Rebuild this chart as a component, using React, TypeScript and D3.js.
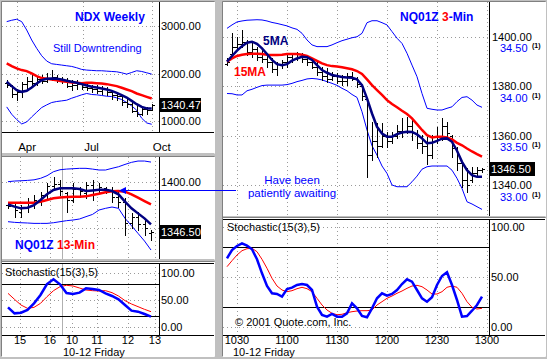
import React from "react";
import * as d3 from "d3";

// ================= NDX Weekly (top-left) =================
const weeklyHigh = [1860,1755,1684,1825,1931,1966,1931,1966,2001,2072,1966,1931,1896,1860,1860,1825,1790,1755,1755,1734,1706,1649,1614,1544,1508,1438,1368,1311,1297,1368];
const weeklyLow = [1720,1508,1438,1508,1649,1720,1755,1790,1825,1860,1825,1790,1720,1649,1684,1684,1649,1614,1579,1565,1544,1473,1438,1332,1297,1192,1100,1121,1156,1227];
const weeklyOpen = [1800,1740,1560,1600,1780,1850,1800,1880,1850,1900,1920,1880,1860,1740,1760,1780,1720,1700,1680,1640,1680,1600,1540,1520,1400,1360,1220,1150,1250,1230];
const weeklyClose = [1760,1560,1600,1780,1850,1800,1880,1850,1900,1920,1880,1860,1740,1760,1780,1720,1700,1680,1640,1680,1600,1540,1520,1400,1360,1220,1150,1250,1230,1340];
const weeklyMaFast = [1825,1734,1649,1614,1635,1706,1790,1860,1889,1896,1889,1875,1846,1825,1804,1776,1748,1720,1706,1684,1663,1635,1593,1544,1494,1424,1354,1297,1262,1262];
const weeklyMaSlow = [2212,2156,2107,2072,2050,2001,1945,1903,1889,1875,1860,1839,1825,1811,1804,1797,1804,1804,1797,1790,1776,1755,1734,1699,1663,1628,1579,1544,1508,1473];
const weeklyUpper = [3092,3121,3142,3092,2916,2705,2529,2374,2262,2205,2191,2177,2163,2149,2121,2086,2072,2065,2058,2058,2050,2043,2036,2015,1987,2022,2058,2043,2015,1987];
const weeklyLower = [1297,1142,1030,938,980,1086,1185,1283,1339,1389,1410,1424,1438,1480,1515,1551,1579,1558,1551,1537,1522,1515,1487,1452,1389,1318,1227,1058,959,931];
const weeklyMonthTicks = [{ label: "Apr", pos: 2.1 }, { label: "Jul", pos: 15.3 }, { label: "Oct", pos: 29.0 }];
const weeklyYTicks = [3000, 2000, 1000];
const weeklyLast = 1340.47;

// ================= NQ01Z 13-Min (middle-left) =================
const m13High = [1378.6,1376.8,1375,1382.2,1385.7,1389.3,1398.2,1405.3,1401.8,1389.3,1398.2,1394.7,1400,1401.8,1398.2,1394.7,1394.7,1389.3,1382.2,1366.1,1367.9,1360.8,1348.3];
const m13Low = [1371.5,1362.6,1362.6,1367.9,1371.5,1375,1382.2,1391.1,1385.7,1367.9,1378.6,1384,1382.2,1380.4,1389.3,1387.5,1378.6,1373.3,1343,1350.1,1348.3,1343,1337.6];
const m13Open = [1375,1374,1368,1372,1378,1380,1386,1395,1398,1388,1380,1392,1388,1396,1392,1393,1390,1384,1378,1356,1362,1355,1345];
const m13Close = [1374,1370,1372,1378,1380,1386,1395,1398,1390,1380,1392,1390,1396,1392,1394,1390,1384,1378,1356,1362,1355,1350,1346.5];
const m13MaFast = [1375.8,1373.3,1371.5,1372.2,1375,1380.4,1386.5,1391.1,1392.9,1392.9,1392.9,1392.2,1390,1390.7,1391.4,1391.4,1390,1386.5,1378.6,1371.5,1366.1,1360.8,1354.4];
const m13MaSlow = [1377.5,1377.5,1377.5,1377.5,1377.5,1378.6,1380.4,1382.2,1383.2,1383.6,1384,1384,1384.3,1385.7,1387.2,1388.6,1389.7,1390,1389.3,1386.5,1382.9,1379.3,1375.8];
const m13Upper = [1400,1400.7,1401,1401.4,1402,1403.6,1406.4,1410.7,1412.8,1413.5,1413.9,1414.3,1414.3,1413.5,1412.5,1412.5,1414.3,1416,1418.5,1420.7,1422.1,1422.1,1421];
const m13Lower = [1357.2,1356.5,1356.1,1355.8,1355.4,1355.4,1355.4,1356.1,1357.2,1358.3,1359,1360.1,1362.6,1365,1369.7,1371.5,1372.9,1371.5,1360.8,1352.9,1344.7,1336.5,1326.9];
const m13StochK = [36.4,25.3,26.5,31.5,43.8,59.3,79.6,88.3,79,63,61.1,63.6,71.6,70.4,68.5,62.3,57.4,51.2,40.7,30.2,28.4,24.1,19.1];
const m13StochD = [62.3,51.2,40.7,34.6,36.4,43.8,56.2,67.3,74.7,77.2,75.9,72.2,68.5,67.3,66.7,67.3,63.6,57.4,48.8,42.6,37.7,32.7,28.4];
const m13HourTicks = [{ label: "15", pos: 1.85 }, { label: "16", pos: 6.46 }, { label: "10", pos: 9.85 }, { label: "11", pos: 13.7 }, { label: "12", pos: 18.46 }, { label: "13", pos: 22.6 }];
const m13DayBreak = 8.3;
const m13YTicks = [1400, 1350];
const m13Last = 1346.5;
const m13ArrowLevel = 1391.6;

// ================= NQ01Z 3-Min (right) =================
const m3High = [1391.5,1401.5,1400.1,1402.8,1398.8,1397.4,1396.1,1394.7,1392.7,1391.3,1390,1390.7,1393.4,1393.4,1394,1393.4,1392.7,1391.3,1390,1388,1387.3,1385.9,1385.3,1384.6,1385.3,1385.9,1383.9,1380.5,1375.1,1365.7,1365,1365,1361.6,1361.6,1364.3,1367,1367.7,1366.3,1362.3,1360.2,1359.6,1360.2,1363.6,1367,1365.7,1360.2,1355.5,1349.4,1346.7,1347.4,1347.4,1346.7];
const m3Low = [1388.5,1392,1394.7,1396.1,1392.7,1392,1390.7,1390,1388,1385.9,1384.6,1387.3,1388,1390,1390.7,1390,1388.6,1387.3,1384.6,1382.6,1381.9,1382.6,1381.2,1380.5,1380.5,1382.6,1379.9,1374.4,1343.3,1350.1,1351.5,1355.5,1355.5,1356.9,1358.9,1359.6,1360.9,1358.2,1354.8,1352.8,1348.7,1350.8,1356.9,1358.2,1358.9,1351.5,1346,1339.3,1337.3,1341.3,1344,1345.4];
const m3Open = [1389,1393,1396,1397,1398,1394,1395,1392,1391,1390,1387,1389,1390,1392,1391,1392,1391,1390,1388,1386,1384,1383,1384,1382,1382,1384,1383,1380,1375,1352,1358,1356,1360,1358,1360,1362,1362,1364,1361,1357,1356,1352,1358,1360,1364,1360,1355,1349,1342,1342,1345,1346];
const m3Close = [1390,1396,1397,1398,1394,1395,1392,1391,1390,1387,1389,1390,1392,1391,1392,1391,1390,1388,1386,1384,1383,1384,1382,1382,1384,1383,1381,1376,1352,1358,1356,1360,1358,1360,1362,1362,1364,1361,1357,1356,1352,1358,1360,1364,1361,1355,1349,1342,1340,1345,1346,1346.5];
const m3Ma5 = [1390,1392.3,1394.5,1396.3,1397.7,1398.1,1397.2,1395.4,1393.1,1390.7,1389,1388.6,1389,1390.4,1391.3,1392,1391.8,1390.7,1388.6,1386.6,1385.5,1384.6,1384.2,1383.8,1383.6,1383.5,1382.8,1380.5,1375.1,1369,1363.6,1360.9,1359.6,1359.6,1360.6,1361.3,1361.6,1361.5,1360.5,1358.9,1356.9,1357.1,1357.9,1358.8,1358.9,1357.5,1353.9,1349.4,1346,1344,1343.3,1343.3];
const m3Ma15 = [1390,1391.3,1392.3,1392.8,1393.1,1393.2,1393.2,1393.1,1392.8,1392.7,1392.7,1392.8,1393.1,1393.1,1393.1,1392.8,1392.3,1391.3,1390.3,1389.3,1388.6,1388.2,1388,1387.7,1387.3,1386.9,1386.2,1385,1382.8,1380.5,1378.5,1376.5,1374.4,1372.8,1371.5,1370.1,1368.8,1367,1364.7,1362.3,1360.2,1359.3,1359.6,1359.6,1359.3,1358.5,1357.1,1356.1,1354.8,1353.6,1352.5,1351.5];
const m3Upper = [1403.5,1404.9,1406.1,1406.5,1406.8,1406.9,1407,1406.9,1406.5,1405.9,1405.5,1405,1404.5,1403.7,1403.1,1401.5,1398.8,1396.8,1396.1,1396.1,1396.1,1396.8,1397.7,1398.5,1399.1,1399.7,1400.1,1401.5,1405.8,1406.6,1406.6,1405.8,1404.9,1402.2,1399.5,1397.4,1393.4,1388.6,1383.9,1377.1,1371.1,1370.7,1370.4,1370.4,1371.1,1371.7,1373.8,1375.5,1375.8,1374.4,1372.4,1371.5];
const m3Lower = [1377.1,1377,1376.5,1376.5,1378.2,1378.8,1379.6,1380.3,1380.5,1380.5,1380.5,1380.5,1380.7,1381.2,1381.9,1382.4,1383,1383.2,1383,1382.6,1381.9,1381.2,1380.4,1379.2,1378.2,1376.7,1375.5,1369.7,1362.3,1355.9,1352.1,1347.7,1344.7,1340,1339.3,1339.3,1339.3,1341.3,1343.6,1346.4,1347.4,1347.7,1347.7,1347.7,1347.7,1346,1342.7,1338.6,1333.2,1332.3,1331.2,1330.1];
const m3StochK = [68.7,77,81,83.7,81.3,77.7,67.7,53.7,41,33.7,33,30.3,38,39.3,42,43,42,37,20.3,12,10.3,13,10.3,10.3,13.7,23.7,18.7,11,9.7,18.7,28.7,33.7,31.3,33,37,43,47.7,45.3,37,28.7,25.3,29.7,42,51,54.7,42,27,10.3,11,16.3,22,30.3];
const m3StochD = [60.3,66.3,72,76.3,78.3,78.7,75.3,67.7,58.7,48.7,41,37,35.3,36.3,38.3,39.7,38.3,35.3,28.7,22,17,13.7,12.3,12.7,14.3,15.3,16,16.3,16.3,17,22,25.3,28.7,31,33.7,36,38.7,41,41.7,40.3,37,33,33,35.3,39.7,41,39.7,33.7,25.3,19.7,18,18.7];
const m3FirstMinute = 24; // minutes after 10:00 of first bar
const m3BarMinutes = 3;
const m3TimeTicks = [{ label: "1030", t: 30 }, { label: "1100", t: 60 }, { label: "1130", t: 90 }, { label: "1200", t: 120 }, { label: "1230", t: 150 }, { label: "1300", t: 180 }];
const m3YTicks = [1400, 1380, 1360, 1340];
const m3AltTicks = [34.5, 34.0, 33.5, 33.0];
const m3Last = 1346.5;

const stochYTicks = [100, 50, 0];
const stochBands = [80, 20];

// ================= styling =================
const FONT = "'Liberation Sans', Arial, Helvetica, sans-serif";
const BLUE = "#0000ff";
const NAVY = "#000080";
const RED = "#ff0000";
const GRID = "#9a9a9a";
const FACE = "#c0c0c0";

const crisp = (v: number) => Math.round(v) + 0.5;

function ohlcPath(xs: (i: number) => number, y: d3.ScaleLinear<number, number>, o: number[], h: number[], l: number[], c: number[], tick: number) {
  let p = "";
  for (let i = 0; i < h.length; i++) {
    const x = crisp(xs(i));
    p += `M${x},${Math.round(y(h[i]))}V${Math.round(y(l[i])) + 1}`;
    const yo = crisp(y(o[i]));
    const yc = crisp(y(c[i]));
    p += `M${x - tick - 0.5},${yo}H${x}`;
    p += `M${x},${yc}H${x + tick + 0.5}`;
  }
  return p;
}

function linePath(xs: (i: number) => number, y: d3.ScaleLinear<number, number>, vals: number[]) {
  return d3.line<number>().x((_, i) => xs(i)).y((d) => y(d))(vals) || "";
}

const T = (props: any) => <text fontFamily={FONT} fontSize={11} {...props} />;

export default function App() {
  // ---------- scales ----------
  const xW = d3.scaleLinear().domain([0, 29]).range([6.7, 151.7]);
  const yW = d3.scaleLinear().domain([1000, 3000]).range([121, 26]);

  const x13 = d3.scaleLinear().domain([0, 22]).range([8, 151]);
  const y13 = d3.scaleLinear().domain([1346.5, 1400]).range([231.7, 181.7]);
  const yS13 = d3.scaleLinear().domain([0, 100]).range([327, 273]);

  const xT = d3.scaleLinear().domain([30, 180]).range([237, 487]);
  const x3 = (i: number) => xT(m3FirstMinute + m3BarMinutes * i);
  const y3 = d3.scaleLinear().domain([1340, 1400]).range([185, 37]);
  const yAlt = d3.scaleLinear().domain([33, 34.5]).range([197, 48]);
  const yS3 = d3.scaleLinear().domain([0, 100]).range([327, 227]);

  const dots = { stroke: GRID, strokeWidth: 1, strokeDasharray: "1,3" };

  const priceBox = (x: number, yc: number, w: number, label: string) => (
    <g>
      <rect x={x} y={Math.round(yc) - 7} width={w} height={14} fill="#000" />
      <T x={x + 2} y={Math.round(yc) + 4} fill="#fff">{label}</T>
    </g>
  );

  return (
    <svg width={547} height={359} style={{ position: "fixed", left: 0, top: 0, display: "block" }}>
      <defs>
        <clipPath id="cLT"><rect x={2} y={2} width={157} height={130} /></clipPath>
        <clipPath id="cLM"><rect x={2} y={157} width={157} height={102} /></clipPath>
        <clipPath id="cLS"><rect x={2} y={263} width={157} height={72} /></clipPath>
        <clipPath id="cRP"><rect x={223} y={2} width={266} height={214} /></clipPath>
        <clipPath id="cRS"><rect x={223} y={219} width={266} height={116} /></clipPath>
      </defs>
      {/* frame */}
      <rect x={0} y={0} width={547} height={359} fill={FACE} />
      <rect x={2} y={2} width={212} height={151} fill="#fff" />
      <rect x={2} y={157} width={212} height={102} fill="#fff" />
      <rect x={2} y={262} width={212} height={94} fill="#fff" />
      <rect x={223} y={2} width={322} height={214} fill="#fff" />
      <rect x={223} y={218} width={322} height={138} fill="#fff" />
      <g stroke="#808080" strokeWidth={1} fill="none">
        <path d="M1.5,356V1.5H214.5" />
        <path d="M1.5,156.5H214.5M1.5,261.5H214.5" />
        <path d="M222.5,356V1.5H545.5" />
        <path d="M222.5,217.5H545.5" />
      </g>
      <g stroke="#ffffff" strokeWidth={1} fill="none">
        <path d="M214.5,2V153.5M214.5,157V259.5M214.5,262V356.5H2" />
        <path d="M545.5,2V216.5M545.5,218V356.5H223" />
      </g>

      {/* ================= TOP LEFT: NDX Weekly ================= */}
      <g>
        {weeklyYTicks.map((v) => (
          <line key={v} x1={2} x2={159} y1={crisp(yW(v))} y2={crisp(yW(v))} {...dots} />
        ))}
        {weeklyMonthTicks.map((m) => (
          <line key={m.label} x1={crisp(xW(m.pos))} x2={crisp(xW(m.pos))} y1={2} y2={132} {...dots} />
        ))}
        <g clipPath="url(#cLT)" fill="none">
          <path d={linePath(xW, yW, weeklyUpper)} stroke={BLUE} strokeWidth={1} />
          <path d={linePath(xW, yW, weeklyLower)} stroke={BLUE} strokeWidth={1} />
          <path d={ohlcPath(xW, yW, weeklyOpen, weeklyHigh, weeklyLow, weeklyClose, 2)} stroke="#000" strokeWidth={1} />
          <path d={linePath(xW, yW, weeklyMaSlow)} stroke={RED} strokeWidth={2.5} />
          <path d={linePath(xW, yW, weeklyMaFast)} stroke={NAVY} strokeWidth={2.5} />
        </g>
        <line x1={159.5} x2={159.5} y1={2} y2={132} stroke="#000" />
        <line x1={2} x2={214} y1={132.5} y2={132.5} stroke="#000" />
        {weeklyYTicks.map((v) => (
          <T key={v} x={161} y={Math.round(yW(v)) + 4}>{v.toFixed(2)}</T>
        ))}
        {priceBox(159, yW(weeklyLast), 42, weeklyLast.toFixed(2))}
        {weeklyMonthTicks.map((m) => (
          <T key={m.label} x={xW(m.pos) + 1} y={151} fontSize={11.5}>{m.label}</T>
        ))}
        <T x={75} y={21} fontSize={12} fontWeight="bold" fill={BLUE}>NDX Weekly</T>
        <T x={53} y={52} fill={BLUE}>Still Downtrending</T>
      </g>

      {/* ================= MIDDLE LEFT: 13-Min ================= */}
      <g>
        {m13YTicks.map((v) => (
          <line key={v} x1={2} x2={159} y1={crisp(y13(v))} y2={crisp(y13(v))} {...dots} />
        ))}
        {m13HourTicks.filter((h) => x13(h.pos) < 159).map((h) => (
          <line key={h.label} x1={crisp(x13(h.pos))} x2={crisp(x13(h.pos))} y1={157} y2={259} {...dots} />
        ))}
        <line x1={crisp(x13(m13DayBreak))} x2={crisp(x13(m13DayBreak))} y1={157} y2={259} stroke="#b0b0b0" />
        <g clipPath="url(#cLM)" fill="none">
          <path d={linePath(x13, y13, m13Upper)} stroke={BLUE} strokeWidth={1} />
          <path d={linePath(x13, y13, m13Lower)} stroke={BLUE} strokeWidth={1} />
          <path d={ohlcPath(x13, y13, m13Open, m13High, m13Low, m13Close, 2)} stroke="#000" strokeWidth={1} />
          <path d={linePath(x13, y13, m13MaSlow)} stroke={RED} strokeWidth={2.5} />
          <path d={linePath(x13, y13, m13MaFast)} stroke={NAVY} strokeWidth={2.5} />
        </g>
        <line x1={159.5} x2={159.5} y1={157} y2={259} stroke="#000" />
        <T x={161} y={Math.round(y13(1400)) + 4}>1400.00</T>
        {priceBox(159, y13(m13Last), 42, m13Last.toFixed(2))}
        <text x={15} y={249} fontFamily={FONT} fontSize={12} fontWeight="bold">
          <tspan fill={BLUE}>NQ01Z </tspan>
          <tspan fill={RED}>13-Min</tspan>
        </text>
      </g>

      {/* ================= BOTTOM LEFT: Stochastic ================= */}
      <g>
        {stochYTicks.map((v) => (
          <line key={v} x1={2} x2={159} y1={crisp(yS13(v))} y2={crisp(yS13(v))} {...dots} />
        ))}
        {m13HourTicks.filter((h) => x13(h.pos) < 159).map((h) => (
          <line key={h.label} x1={crisp(x13(h.pos))} x2={crisp(x13(h.pos))} y1={263} y2={335} {...dots} />
        ))}
        <line x1={crisp(x13(m13DayBreak))} x2={crisp(x13(m13DayBreak))} y1={263} y2={335} stroke="#b0b0b0" />
        {stochBands.map((v) => (
          <line key={v} x1={2} x2={159} y1={crisp(yS13(v))} y2={crisp(yS13(v))} stroke="#000" />
        ))}
        <g clipPath="url(#cLS)" fill="none">
          <path d={linePath(x13, yS13, m13StochD)} stroke={RED} strokeWidth={1} />
          <path d={linePath(x13, yS13, m13StochK)} stroke={BLUE} strokeWidth={2.5} />
        </g>
        <line x1={159.5} x2={159.5} y1={263} y2={335} stroke="#000" />
        <line x1={2} x2={214} y1={263.5} y2={263.5} stroke="#000" />
        <line x1={2} x2={214} y1={335.5} y2={335.5} stroke="#000" />
        {stochYTicks.map((v) => (
          <T key={v} x={161} y={Math.round(yS13(v)) + 4}>{v.toFixed(2)}</T>
        ))}
        <T x={5} y={276}>Stochastic(15(3),5)</T>
        {m13HourTicks.map((h) => (
          <T key={h.label} x={x13(h.pos)} y={344} textAnchor="middle">{h.label}</T>
        ))}
        <T x={63} y={356}>10-12 Friday</T>
      </g>

      {/* ================= RIGHT: 3-Min price ================= */}
      <g>
        {m3YTicks.map((v) => (
          <line key={v} x1={223} x2={489} y1={crisp(y3(v))} y2={crisp(y3(v))} {...dots} />
        ))}
        {m3TimeTicks.filter((t) => xT(t.t) < 489).map((t) => (
          <line key={t.label} x1={crisp(xT(t.t))} x2={crisp(xT(t.t))} y1={2} y2={216} {...dots} />
        ))}
        <g clipPath="url(#cRP)" fill="none">
          <path d={linePath(x3, y3, m3Upper)} stroke={BLUE} strokeWidth={1} />
          <path d={linePath(x3, y3, m3Lower)} stroke={BLUE} strokeWidth={1} />
          <path d={ohlcPath(x3, y3, m3Open, m3High, m3Low, m3Close, 2)} stroke="#000" strokeWidth={1} />
          <path d={linePath(x3, y3, m3Ma15)} stroke={RED} strokeWidth={2.5} />
          <path d={linePath(x3, y3, m3Ma5)} stroke={NAVY} strokeWidth={2.5} />
        </g>
        <line x1={489.5} x2={489.5} y1={2} y2={216} stroke="#000" />
        {m3YTicks.map((v) => (
          <T key={v} x={492} y={Math.round(y3(v)) + 4}>{v.toFixed(2)}</T>
        ))}
        {m3AltTicks.map((v) => (
          <g key={v}>
            <T x={500} y={Math.round(yAlt(v)) + 4} fill={BLUE}>{v.toFixed(2)}</T>
            <T x={532} y={Math.round(yAlt(v))} fontSize={7} fontWeight="bold">(1)</T>
          </g>
        ))}
        {priceBox(489, y3(m3Last), 46, m3Last.toFixed(2))}
        <text x={400} y={21} fontFamily={FONT} fontSize={12} fontWeight="bold">
          <tspan fill={BLUE}>NQ01Z </tspan>
          <tspan fill={RED}>3</tspan>
          <tspan fill={BLUE}>-Min</tspan>
        </text>
        <T x={263} y={45} fontSize={12} fontWeight="bold" fill={NAVY}>5MA</T>
        <T x={234} y={76} fontSize={12} fontWeight="bold" fill={RED}>15MA</T>
        <T x={292} y={184} textAnchor="middle" fill={BLUE} fontSize={11.5}>Have been</T>
        <T x={292} y={197} textAnchor="middle" fill={BLUE} fontSize={11.5}>patiently awaiting</T>
      </g>

      {/* ================= RIGHT: 3-Min stochastic ================= */}
      <g>
        {stochYTicks.map((v) => (
          <line key={v} x1={223} x2={489} y1={crisp(yS3(v))} y2={crisp(yS3(v))} {...dots} />
        ))}
        {m3TimeTicks.filter((t) => xT(t.t) < 489).map((t) => (
          <line key={t.label} x1={crisp(xT(t.t))} x2={crisp(xT(t.t))} y1={219} y2={335} {...dots} />
        ))}
        {stochBands.map((v) => (
          <line key={v} x1={223} x2={489} y1={crisp(yS3(v))} y2={crisp(yS3(v))} stroke="#000" />
        ))}
        <g clipPath="url(#cRS)" fill="none">
          <path d={linePath(x3, yS3, m3StochD)} stroke={RED} strokeWidth={1} />
          <path d={linePath(x3, yS3, m3StochK)} stroke={BLUE} strokeWidth={2.5} />
        </g>
        <line x1={489.5} x2={489.5} y1={219} y2={335} stroke="#000" />
        <line x1={223} x2={545} y1={219.5} y2={219.5} stroke="#000" />
        <line x1={223} x2={545} y1={335.5} y2={335.5} stroke="#000" />
        {stochYTicks.map((v) => (
          <T key={v} x={491} y={Math.round(yS3(v)) + 4}>{v.toFixed(2)}</T>
        ))}
        <T x={227} y={231}>Stochastic(15(3),5)</T>
        <T x={235} y={326}>© 2001 Quote.com, Inc.</T>
        {m3TimeTicks.map((t) => (
          <T key={t.label} x={xT(t.t)} y={344} textAnchor="middle">{t.label}</T>
        ))}
        <T x={233} y={356}>10-12 Friday</T>
      </g>

      {/* arrow across panels */}
      <line x1={121} x2={236} y1={crisp(y13(m13ArrowLevel))} y2={crisp(y13(m13ArrowLevel))} stroke={BLUE} strokeWidth={1} />
      <path
        d={`M119,${crisp(y13(m13ArrowLevel))}L126,${crisp(y13(m13ArrowLevel)) - 3.5}L126,${crisp(y13(m13ArrowLevel)) + 3.5}Z`}
        fill={BLUE}
      />
    </svg>
  );
}
